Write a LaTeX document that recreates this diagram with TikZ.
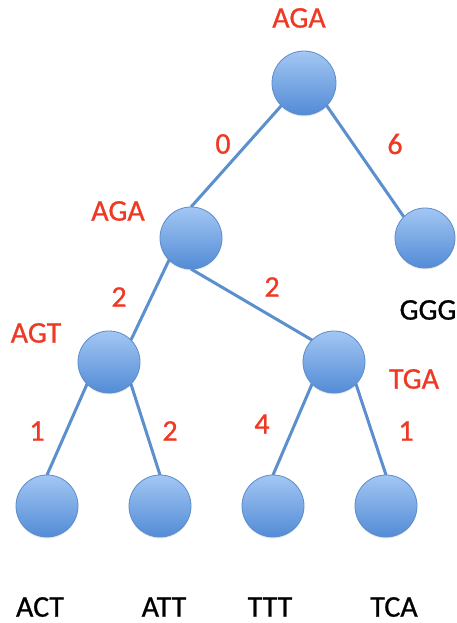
\documentclass[tikz,border=0pt]{standalone}
\usepackage{fontspec}
\setmainfont{Carlito}
\newfontfamily\lblfont{Carlito}[FakeBold=0.8]
\usetikzlibrary{backgrounds,shadows}
\definecolor{nodeTop}{RGB}{163,199,243}
\definecolor{nodeBot}{RGB}{82,139,214}
\definecolor{nodeLine}{RGB}{92,140,202}
\definecolor{edgeCol}{RGB}{92,143,205}
\definecolor{lblRed}{RGB}{238,58,36}
\begin{document}
\begin{tikzpicture}[x=1pt,y=-1pt,
  treenode/.style={circle, minimum size=62pt, inner sep=0pt, outer sep=0pt,
    top color=nodeTop, bottom color=nodeBot, draw=nodeLine, line width=0.8pt,
    drop shadow={opacity=0.18, shadow xshift=0pt, shadow yshift=-1.5pt}},
  edgeline/.style={draw=edgeCol, line width=3pt},
  redlbl/.style={text=lblRed, font=\lblfont\fontsize{30}{30}\selectfont, inner sep=0pt},
  blklbl/.style={text=black, font=\lblfont\fontsize{30}{30}\selectfont, inner sep=0pt}]
\useasboundingbox (0,0) rectangle (457,623);
% tree nodes
\node[treenode, minimum size=64pt] (root) at (304,83) {};
\node[treenode] (mid) at (191,238) {};
\node[treenode, minimum size=60pt] (ggg) at (425,238) {};
\node[treenode] (agt) at (109,362) {};
\node[treenode] (tga) at (334,362) {};
\node[treenode] (act) at (47,506) {};
\node[treenode] (att) at (160,506) {};
\node[treenode] (ttt) at (273,506) {};
\node[treenode] (tca) at (386,506) {};
% connectors
\begin{pgfonlayer}{background}
\draw[edgeline] (root.south west) -- (mid.north);
\draw[edgeline] (root.south east) -- (ggg.north west);
\draw[edgeline] (mid.south west) -- (agt.north east);
\draw[edgeline] (mid.south) -- (tga.north west);
\draw[edgeline] (agt.south west) -- (act.north);
\draw[edgeline] (agt.south east) -- (att.north);
\draw[edgeline] (tga.south west) -- (ttt.north);
\draw[edgeline] (tga.south east) -- (tca.north);
\end{pgfonlayer}
% sequence labels
\node[redlbl] (lroot) at (299,18) {AGA};
\node[redlbl] (lmid) at (118,211) {AGA};
\node[redlbl] (lagt) at (36,333) {AGT};
\node[redlbl] (ltga) at (414,379) {TGA};
\node[blklbl] (lggg) at (428,310) {GGG};
\node[blklbl] (lact) at (40,607) {ACT};
\node[blklbl] (latt) at (164,607) {ATT};
\node[blklbl] (lttt) at (270,607) {TTT};
\node[blklbl] (ltca) at (394,607) {TCA};
% edge weights
\node[redlbl] (w1) at (223,144) {0};
\node[redlbl] (w2) at (395,144) {6};
\node[redlbl] (w3) at (119,297) {2};
\node[redlbl] (w4) at (272,287) {2};
\node[redlbl] (w5) at (37,431) {1};
\node[redlbl] (w6) at (170,431) {2};
\node[redlbl] (w7) at (262,424) {4};
\node[redlbl] (w8) at (406,431) {1};
\end{tikzpicture}
\end{document}
